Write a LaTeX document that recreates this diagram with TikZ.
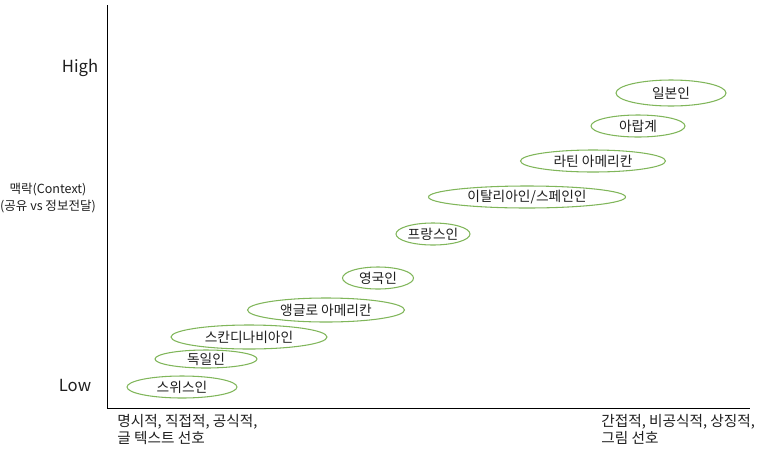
\documentclass[tikz,border=0pt]{standalone}
\usepackage{fontspec}
\setmainfont{Noto Sans CJK KR}
\usetikzlibrary{shapes.geometric}
\definecolor{elgreen}{RGB}{128,182,90}
\definecolor{txt}{RGB}{30,30,30}
\tikzset{
  grp/.style={ellipse, draw=elgreen, line width=0.8pt, inner sep=0pt, font=\fontsize{10.3}{11}\selectfont, text=txt},
  axis/.style={draw=black, line width=0.75pt},
  lbl/.style={font=\fontsize{11}{12.5}\selectfont, text=txt, align=left, inner sep=0pt}
}
\begin{document}
\begin{tikzpicture}[x=0.75pt, y=-0.75pt]
\useasboundingbox (0,0) rectangle (759,454);
\coordinate (top) at (107,5);
\coordinate (origin) at (107,408);
\coordinate (right) at (750,408);
\draw[axis] (top) -- (origin) -- (right);
\node[font=\fontsize{12.5}{14}\selectfont, text=txt] (high) at (80,68) {High};
\node[font=\fontsize{12.5}{14}\selectfont, text=txt] (low) at (75,385) {Low};
\node[font=\fontsize{9.4}{12.8}\selectfont, text=txt, align=center, inner sep=0pt] (ylab) at (48,198) {맥락(Context)\\(공유 vs 정보전달)};
\node[lbl, anchor=north west] (bl) at (117,414) {명시적, 직접적, 공식적,\\글 텍스트 선호};
\node[lbl, anchor=north west] (br) at (601,414) {간접적, 비공식적, 상징적,\\그림 선호};
\node[grp, minimum width=110*0.75pt, minimum height=22*0.75pt] (swiss) at (182,387) {스위스인};
\node[grp, minimum width=102*0.75pt, minimum height=18*0.75pt] (german) at (206,359) {독일인};
\node[grp, minimum width=156*0.75pt, minimum height=24*0.75pt] (scan) at (249,337) {스칸디나비아인};
\node[grp, minimum width=157*0.75pt, minimum height=24*0.75pt] (anglo) at (326,310) {앵글로 아메리칸};
\node[grp, minimum width=71*0.75pt, minimum height=22*0.75pt] (uk) at (378,278) {영국인};
\node[grp, minimum width=74*0.75pt, minimum height=22*0.75pt] (fr) at (433,234) {프랑스인};
\node[grp, minimum width=197*0.75pt, minimum height=22*0.75pt] (it) at (527,197) {이탈리아인/스페인인};
\node[grp, minimum width=145*0.75pt, minimum height=22*0.75pt] (latin) at (593,161) {라틴 아메리칸};
\node[grp, minimum width=94*0.75pt, minimum height=22*0.75pt] (arab) at (638,126) {아랍계};
\node[grp, minimum width=110*0.75pt, minimum height=26*0.75pt] (jp) at (671,93) {일본인};
\end{tikzpicture}
\end{document}
